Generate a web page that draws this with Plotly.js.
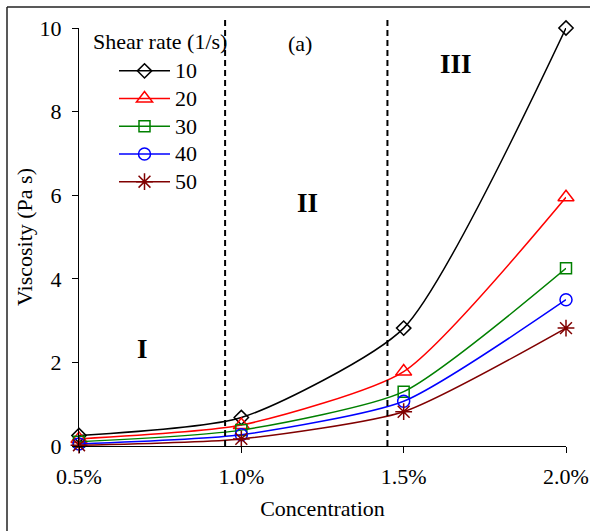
<!DOCTYPE html>
<html>
<head>
<meta charset="utf-8">
<script src="https://cdn.plot.ly/plotly-3.0.1.min.js"></script>
<style>html,body{margin:0;padding:0;background:#fff;}#chart{width:590px;height:531px;}</style>
</head>
<body>
<div id="chart"></div>
<script>
// Data
const concentration = [0.005, 0.010, 0.015, 0.020];
const shearRates = ["10", "20", "30", "40", "50"];
const visc10 = [0.25, 0.68, 2.82, 10.0];
const visc20 = [0.17, 0.50, 1.78, 5.95];
const visc30 = [0.10, 0.38, 1.30, 4.25];
const visc40 = [0.05, 0.27, 1.07, 3.50];
const visc50 = [0.02, 0.17, 0.82, 2.82];
const regionBounds = [0.0095, 0.0145];
const regionLabels = ["I", "II", "III"];
const regionLabelX = [0.00696, 0.01205, 0.01661];
const regionLabelY = [2.32, 5.81, 9.15];

const FONT = "Liberation Serif";
const FS = 22;
const series = [visc10, visc20, visc30, visc40, visc50];
const colors = ["#000000", "#FF0000", "#008000", "#0000FF", "#800000"];
const symbols = ["diamond-open", "triangle-up-open", "square-open", "circle-open", "asterisk-open"];
const sizes = [11, 14, 11, 12, 14];

const traces = series.map((vals, i) => ({
  x: concentration,
  y: vals,
  name: "<span style='font-size:" + FS + "px'>" + shearRates[i] + "</span>",
  type: "scatter",
  mode: "lines+markers",
  line: {color: colors[i], width: 1.5, shape: "spline", smoothing: 0.6},
  marker: {symbol: symbols[i], size: sizes[i], color: colors[i], line: {color: colors[i], width: 1.5}},
  cliponaxis: false
}));

const W = 590, H = 531, L = 79, R = 24, T = 28, B = 85;
const pw = W - L - R, ph = H - T - B;
const px2x = p => (p - L) / pw;
const py2y = p => (H - B - p) / ph;

const shapes = regionBounds.map(b => ({
  type: "line", xref: "x", yref: "paper",
  x0: b, x1: b, y0: 0, y1: py2y(18),
  line: {color: "#000", width: 2, dash: "6px,4px"}
}));
// outer frame (top and left edges visible in reference)
shapes.push({type: "line", xref: "paper", yref: "paper", x0: px2x(7), x1: px2x(600), y0: py2y(7), y1: py2y(7), line: {color: "#222", width: 1.5}});
shapes.push({type: "line", xref: "paper", yref: "paper", x0: px2x(7), x1: px2x(7), y0: py2y(7), y1: py2y(540), line: {color: "#222", width: 1.5}});

const annotations = regionLabels.map((t, i) => ({
  x: regionLabelX[i], y: regionLabelY[i], xref: "x", yref: "y",
  text: "<b>" + t + "</b>", showarrow: false,
  font: {family: FONT, size: 27, color: "#000"}
}));
annotations.push({x: 0.0118, y: 9.62, xref: "x", yref: "y", text: "(a)", showarrow: false,
  font: {family: FONT, size: FS, color: "#000"}});
annotations.push({x: px2x(91), y: py2y(42), xref: "paper", yref: "paper", xanchor: "left", yanchor: "middle",
  text: "Shear rate (1/s)", showarrow: false, font: {family: FONT, size: FS, color: "#000"}});

const layout = {
  width: W, height: H,
  margin: {l: L, r: R, t: T, b: B, pad: 0},
  paper_bgcolor: "#fff", plot_bgcolor: "#fff",
  font: {family: FONT, size: FS, color: "#000"},
  showlegend: true,
  legend: {x: px2x(114), y: py2y(52), xanchor: "left", yanchor: "top",
    bgcolor: "rgba(0,0,0,0)", itemwidth: 51, font: {family: FONT, size: 19, color: "#000"},
    tracegroupgap: 0},
  xaxis: {
    range: [0.005, 0.020], tickvals: concentration, tickformat: ".1%",
    showgrid: false, zeroline: false, showline: true, linecolor: "#000", linewidth: 1,
    ticks: "outside", ticklen: 6, tickcolor: "#000", ticklabelstandoff: 5,
    tickfont: {family: FONT, size: FS},
    title: {text: "Concentration", font: {family: FONT, size: FS}, standoff: 12}
  },
  yaxis: {
    range: [0, 10], tickvals: [0, 2, 4, 6, 8, 10],
    showgrid: false, zeroline: false, showline: true, linecolor: "#000", linewidth: 1,
    ticks: "outside", ticklen: 6, tickcolor: "#000", ticklabelstandoff: 6,
    tickfont: {family: FONT, size: FS},
    title: {text: "Viscosity (Pa s)", font: {family: FONT, size: FS}, standoff: 0}
  },
  shapes: shapes,
  annotations: annotations
};

Plotly.newPlot("chart", traces, layout, {displayModeBar: false, staticPlot: true});
</script>
</body>
</html>
